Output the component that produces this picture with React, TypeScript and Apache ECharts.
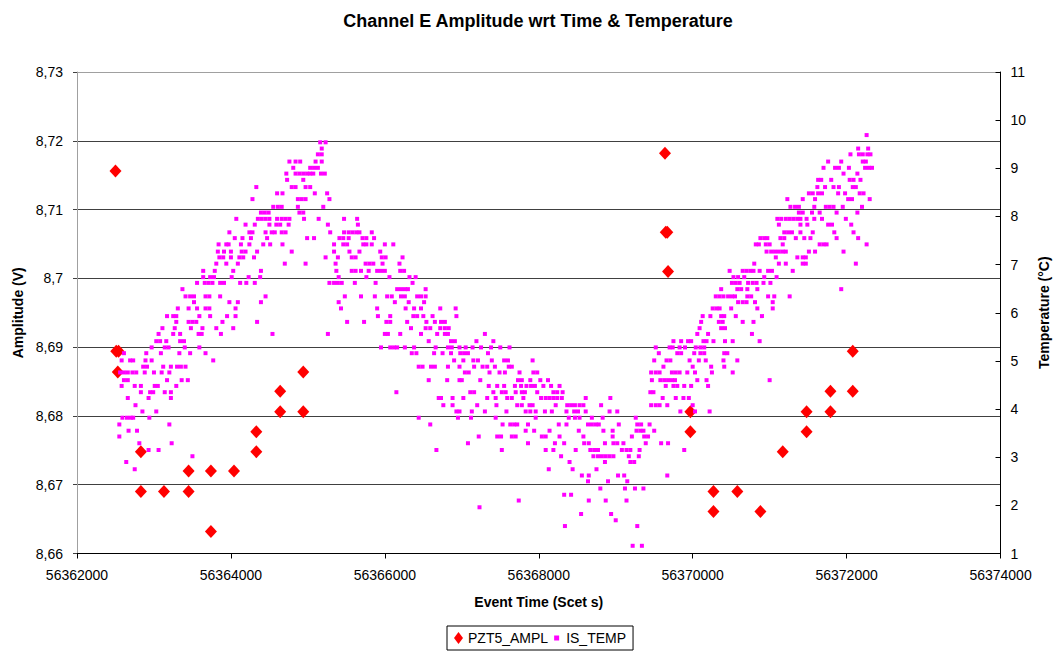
import React, { useEffect, useRef } from "react";
import * as echarts from "echarts";

const TITLE = "Channel E Amplitude wrt Time & Temperature";
const X_NAME = "Event Time (Scet s)";
const AMP_NAME = "Amplitude (V)";
const TEMP_NAME = "Temperature (°C)";

const X_MIN = 56362000;
const X_MAX = 56374000;
const X_STEP = 2000;
const AMP_MIN = 8.66;
const AMP_MAX = 8.73;
const AMP_STEP = 0.01;
const TEMP_MIN = 1;
const TEMP_MAX = 11;
const TEMP_STEP = 1;

// PZT5_AMPL readings: [event time (Scet s), amplitude (V)]
const pzt5Ampl: [number, number][] = [
  [56362500, 8.7156], [56362510, 8.6894], [56362540, 8.6894], [56362530, 8.6864],
  [56362830, 8.6748], [56362830, 8.669], [56363130, 8.669], [56363450, 8.672],
  [56363450, 8.669], [56363740, 8.672], [56363740, 8.6632], [56364040, 8.672],
  [56364330, 8.6777], [56364330, 8.6748], [56364640, 8.6836], [56364640, 8.6806],
  [56364940, 8.6864], [56364940, 8.6806],
  [56369640, 8.7182], [56369650, 8.7067], [56369670, 8.7067], [56369680, 8.701],
  [56369970, 8.6806], [56369970, 8.6777], [56370270, 8.669], [56370270, 8.6661],
  [56370580, 8.669], [56370880, 8.6661], [56371170, 8.6748], [56371480, 8.6806],
  [56371480, 8.6777], [56371790, 8.6836], [56371790, 8.6806], [56372080, 8.6894],
  [56372080, 8.6836],
];

// IS_TEMP readings grouped by logged temperature step: [°C, event times (Scet s)]
const isTempRows: [number, number[]][] = [
  [9.69, [56372260]],
  [9.54, [56365160, 56365230]],
  [9.41, [56365180, 56372150, 56372280]],
  [9.29, [56365130, 56365180, 56372050, 56372160, 56372210, 56372270, 56372310]],
  [9.14, [56364760, 56364840, 56364900, 56365100, 56365180, 56371760, 56371930, 56372210, 56372250]],
  [9.01, [56364810, 56365030, 56365080, 56365130, 56371700, 56371850, 56371900, 56372030, 56372240, 56372290, 56372330]],
  [8.89, [56364720, 56364840, 56364890, 56364940, 56364990, 56365030, 56365070, 56365170, 56365220, 56371960, 56372140]],
  [8.76, [56364730, 56364940, 56371630, 56371670, 56371800, 56372040, 56372090, 56372180]],
  [8.61, [56364330, 56364790, 56364840, 56364970, 56365030, 56371620, 56371720, 56371830, 56371900, 56372080, 56372120]],
  [8.48, [56364600, 56364670, 56365090, 56365250, 56371510, 56371560, 56371630, 56371680, 56371890, 56371980, 56372170, 56372220]],
  [8.36, [56364280, 56364870, 56364920, 56364970, 56365280, 56371230, 56371430, 56371590, 56372020, 56372070, 56372300]],
  [8.2, [56364550, 56364610, 56364660, 56364870, 56365200, 56371270, 56371330, 56371380, 56371580, 56371730, 56371780, 56371830, 56371950, 56372200]],
  [8.08, [56364390, 56364440, 56364490, 56364890, 56364940, 56371380, 56371430, 56371550, 56371650, 56371870, 56372140]],
  [7.95, [56364070, 56364350, 56364400, 56364450, 56364500, 56364600, 56364660, 56364710, 56364760, 56364950, 56365140, 56365470, 56365640, 56371100, 56371150, 56371210, 56371260, 56371310, 56371360, 56371400, 56371480, 56371580, 56371680, 56371990]],
  [7.83, [56364190, 56364310, 56364500, 56364590, 56364640, 56364750, 56365260, 56365650, 56371120, 56371400, 56371490, 56371760, 56371810, 56372060]],
  [7.67, [56363980, 56364240, 56364280, 56364450, 56364530, 56364570, 56364660, 56364710, 56365290, 56365470, 56365530, 56365580, 56365630, 56365670, 56365830, 56371190, 56371240, 56371290, 56371400, 56371560, 56371840, 56372090]],
  [7.55, [56364050, 56364150, 56364260, 56364470, 56364990, 56365080, 56365410, 56365460, 56365530, 56365710, 56365760, 56365860, 56370880, 56370930, 56370970, 56371140, 56371190, 56371340, 56371450, 56371530, 56371870, 56372150]],
  [7.42, [56363840, 56363940, 56363970, 56364130, 56364240, 56364420, 56364510, 56364670, 56365340, 56365460, 56365510, 56365720, 56365760, 56365830, 56366000, 56366110, 56370820, 56370860, 56370950, 56371000, 56371170, 56371650, 56371700, 56371740, 56372260]],
  [7.27, [56363830, 56363910, 56364000, 56364140, 56364190, 56364340, 56364790, 56365340, 56365540, 56365670, 56365940, 56370960, 56371020, 56371070, 56371120, 56371170, 56371210, 56371510, 56371590, 56371960]],
  [7.15, [56363850, 56363900, 56364000, 56364110, 56364160, 56364300, 56365230, 56365390, 56365570, 56365620, 56365960, 56366010, 56366230, 56371080, 56371360, 56371430, 56371470]],
  [7.02, [56363810, 56363940, 56364090, 56364700, 56364970, 56365360, 56365750, 56365800, 56365850, 56365970, 56366190, 56370800, 56371120, 56371210, 56371430, 56371470, 56372120]],
  [6.87, [56363640, 56363790, 56364030, 56364390, 56365370, 56365570, 56365620, 56365690, 56365790, 56365900, 56365950, 56366000, 56366200, 56366250, 56370480, 56370650, 56370700, 56370750, 56370790, 56370870, 56370980, 56371030, 56371300]],
  [6.74, [56363640, 56363730, 56363780, 56364010, 56364230, 56364380, 56365400, 56365760, 56366060, 56366320, 56366400, 56370530, 56370590, 56370670, 56370930, 56371090]],
  [6.62, [56363560, 56363660, 56363710, 56363760, 56363860, 56363910, 56364120, 56364200, 56364310, 56365280, 56365340, 56365390, 56365440, 56365610, 56365880, 56366360, 56370510, 56370560, 56370610, 56370720, 56370780, 56370830, 56370920, 56371010]],
  [6.49, [56363370, 56366160, 56366210, 56366260, 56366300, 56366530, 56370370, 56370580, 56370630, 56370710, 56370840, 56371930]],
  [6.34, [56363410, 56363470, 56363520, 56363670, 56363720, 56363860, 56364450, 56365480, 56365690, 56365870, 56366030, 56366090, 56366210, 56366260, 56366420, 56366470, 56366530, 56370300, 56370350, 56370400, 56370460, 56370510, 56370550, 56370710, 56370760, 56370980, 56371060, 56371260]],
  [6.22, [56363520, 56363980, 56364090, 56364390, 56365400, 56366130, 56366310, 56366510, 56370590, 56370650, 56370700, 56370810, 56371040]],
  [6.09, [56363310, 56363450, 56363560, 56363670, 56363720, 56364060, 56365430, 56365900, 56366270, 56366380, 56366470, 56366720, 56366920, 56370260, 56370310, 56370350, 56370500, 56370840, 56371040]],
  [5.93, [56363170, 56363250, 56363290, 56363590, 56363730, 56363950, 56364060, 56365910, 56366070, 56366370, 56366420, 56366500, 56366620, 56366930, 56370130, 56370230, 56370370, 56370410, 56370560, 56370900]],
  [5.81, [56363290, 56363450, 56363500, 56363550, 56363890, 56364340, 56365510, 56365730, 56366020, 56366070, 56366290, 56366540, 56366650, 56366730, 56366780, 56370110, 56370340, 56370390, 56370650, 56370790]],
  [5.68, [56363110, 56363270, 56363480, 56363630, 56363810, 56364030, 56366340, 56366530, 56366590, 56366720, 56366780, 56366830, 56370090, 56370370, 56370420]],
  [5.56, [56363060, 56363250, 56363340, 56363580, 56363620, 56363870, 56364540, 56365260, 56366000, 56366040, 56366200, 56366470, 56366680, 56366780, 56366820, 56367300, 56370060, 56370200, 56370770]],
  [5.41, [56363030, 56363080, 56363160, 56363340, 56363390, 56366570, 56366860, 56366910, 56367190, 56367410, 56369750, 56369850, 56369940, 56369980, 56370140, 56370180, 56370270, 56370420, 56370520, 56370870]],
  [5.28, [56362970, 56363140, 56363190, 56363400, 56363590, 56365950, 56366070, 56366120, 56366160, 56366260, 56366380, 56366660, 56366820, 56366870, 56366970, 56367050, 56367140, 56367250, 56367380, 56367500, 56367620, 56369520, 56369700, 56369740, 56369830, 56369900, 56370040, 56370100, 56370150]],
  [5.16, [56362610, 56362900, 56363090, 56363330, 56363470, 56363670, 56366350, 56366410, 56366640, 56366750, 56366860, 56366980, 56367030, 56367080, 56367340, 56369560, 56369800, 56369850, 56370020, 56370100, 56370150, 56370410, 56370450]],
  [5.01, [56362580, 56362690, 56362730, 56362890, 56362970, 56363770, 56366900, 56367020, 56367150, 56367210, 56367390, 56367550, 56367600, 56367920, 56369500, 56369660, 56369710, 56369960, 56370080, 56370170, 56370400, 56370580]],
  [4.88, [56362860, 56362910, 56363120, 56363220, 56363300, 56363350, 56363410, 56366440, 56366490, 56366600, 56366650, 56366820, 56366970, 56367160, 56367270, 56367330, 56367430, 56367610, 56367650, 56369620, 56370000, 56370240, 56370410]],
  [4.76, [56362560, 56362610, 56362660, 56362720, 56362770, 56362880, 56363000, 56363100, 56363200, 56367040, 56367090, 56367360, 56367490, 56367560, 56367750, 56367930, 56367980, 56369460, 56369520, 56369570, 56369730, 56369780, 56369830, 56369930, 56370030, 56370250, 56370520]],
  [4.6, [56362610, 56362660, 56363170, 56363360, 56363440, 56366570, 56366810, 56366970, 56367000, 56367240, 56367730, 56367780, 56367890, 56368020, 56368120, 56369470, 56369580, 56369630, 56369680, 56369730, 56369770, 56370060, 56370180, 56371000]],
  [4.48, [56362580, 56362750, 56362830, 56363010, 56363050, 56363290, 56367350, 56367460, 56367550, 56367690, 56367770, 56367840, 56367900, 56367950, 56368060, 56368160, 56368270, 56369650, 56369750, 56369800, 56369890, 56369980, 56370200]],
  [4.35, [56362830, 56362950, 56362990, 56363140, 56363220, 56366150, 56367110, 56367160, 56367410, 56367520, 56367570, 56367700, 56367780, 56367820, 56367980, 56368190, 56368240, 56368310, 56369450, 56369490]],
  [4.23, [56362660, 56362930, 56363220, 56366700, 56366730, 56366880, 56367020, 56367330, 56367440, 56367590, 56367650, 56367800, 56368030, 56368090, 56368140, 56368190, 56368240, 56368300, 56368610, 56368930, 56369610, 56369780, 56369880, 56369950]],
  [4.08, [56362760, 56366760, 56366880, 56367200, 56367450, 56367720, 56367780, 56367880, 56367920, 56368220, 56368370, 56368420, 56368470, 56368530, 56368580, 56368810, 56369460, 56369520, 56369570, 56369670, 56370000]],
  [3.95, [56362850, 56363030, 56366930, 56366970, 56367130, 56367300, 56367580, 56367830, 56367890, 56367960, 56368080, 56368170, 56368360, 56368460, 56368510, 56368610, 56368920, 56369020, 56369840, 56370030, 56370220]],
  [3.82, [56362590, 56362650, 56362700, 56362730, 56362940, 56366440, 56366950, 56367120, 56367440, 56367960, 56368390, 56368470, 56368530, 56368690, 56368830, 56369260]],
  [3.68, [56362550, 56363200, 56366590, 56367530, 56367630, 56367680, 56367720, 56367860, 56368260, 56368360, 56368640, 56368690, 56368740, 56368780, 56369040, 56369280, 56369330, 56369440]],
  [3.55, [56362670, 56362780, 56367830, 56367940, 56368140, 56368520, 56368840, 56368960, 56369270, 56369320, 56369360, 56369500]],
  [3.43, [56362550, 56367220, 56367460, 56367510, 56367650, 56367700, 56368040, 56368090, 56368270, 56368580, 56368960, 56369210, 56369370, 56369420]],
  [3.29, [56362810, 56363230, 56367080, 56367860, 56368210, 56368330, 56368590, 56368650, 56368860, 56368970, 56369020, 56369100, 56369390, 56369590, 56369680]],
  [3.15, [56362930, 56363060, 56366670, 56367520, 56368090, 56368190, 56368480, 56368670, 56368720, 56368770, 56369080, 56369140, 56369190, 56369310, 56369890]],
  [3.02, [56363500, 56368290, 56368710, 56368770, 56368820, 56368870, 56368920, 56368970, 56369170, 56369300]],
  [2.9, [56362640, 56368400, 56368860, 56369190, 56369240]],
  [2.75, [56362750, 56368130, 56368440, 56368750]],
  [2.62, [56368560, 56368650, 56369030, 56369110, 56369670]],
  [2.5, [56368640, 56368900, 56369150]],
  [2.35, [56368800, 56369120, 56369250, 56369360]],
  [2.22, [56368330, 56368420]],
  [2.1, [56367740, 56368650, 56368870, 56369140]],
  [1.96, [56367230]],
  [1.82, [56368550, 56368940]],
  [1.69, [56369000]],
  [1.57, [56368340, 56369280]],
  [1.16, [56369220, 56369340]],
];

const FONT = "'Liberation Sans', Arial, Helvetica, sans-serif";
const RED = "#ff0000";
const MAGENTA = "#ff00ff";

// Excel-style decimal comma, trailing zeros dropped (8,7 / 8,73)
const formatAmp = (v: number) => String(Math.round(v * 100) / 100).replace(".", ",");

export default function App() {
  const ref = useRef<HTMLDivElement>(null);

  useEffect(() => {
    if (!ref.current) return;
    const chart = echarts.init(ref.current, undefined, { renderer: "svg" });

    const tempData: [number, number][] = [];
    isTempRows.forEach(([temp, times]) => {
      times.forEach((t) => tempData.push([t, temp]));
    });

    const axisText = { color: "#000", fontFamily: FONT, fontSize: 14 };
    const nameText = { color: "#000", fontFamily: FONT, fontSize: 14, fontWeight: "bold" as const };

    chart.setOption({
      animation: false,
      backgroundColor: "#ffffff",
      title: {
        text: TITLE,
        left: 533,
        top: 7,
        textAlign: "center",
        textStyle: { color: "#000", fontFamily: FONT, fontSize: 18, fontWeight: "bold" },
      },
      legend: {
        left: 447,
        top: 626,
        orient: "horizontal",
        padding: [5, 7, 5, 7],
        itemGap: 4,
        itemWidth: 9,
        itemHeight: 12,
        borderColor: "#000",
        borderWidth: 1,
        backgroundColor: "#fff",
        textStyle: { color: "#000", fontFamily: FONT, fontSize: 14 },
        data: [
          { name: "PZT5_AMPL", icon: "path://M4.5,0L9,6L4.5,12L0,6Z" },
          { name: "IS_TEMP", icon: "path://M0,0M9,12M2,3.5h5v5h-5Z" },
        ],
      },
      grid: { left: 77, right: 53, top: 72, bottom: 105.5, containLabel: false },
      xAxis: {
        type: "value",
        min: X_MIN,
        max: X_MAX,
        interval: X_STEP,
        name: X_NAME,
        nameLocation: "middle",
        nameGap: 41,
        nameTextStyle: nameText,
        axisLine: { show: true, onZero: false, lineStyle: { color: "#000", width: 1 } },
        axisTick: { show: true, inside: false, length: 5, lineStyle: { color: "#000" } },
        axisLabel: { ...axisText, margin: 14, formatter: (v: number) => String(v) },
        splitLine: { show: false },
      },
      yAxis: [
        {
          type: "value",
          position: "left",
          min: AMP_MIN,
          max: AMP_MAX,
          interval: AMP_STEP,
          name: AMP_NAME,
          nameLocation: "middle",
          nameRotate: 90,
          nameGap: 52,
          nameTextStyle: nameText,
          axisLine: { show: true, onZero: false, lineStyle: { color: "#a0a0a0", width: 1 } },
          axisTick: { show: true, inside: false, length: 4, lineStyle: { color: "#404040" } },
          axisLabel: { ...axisText, margin: 14, formatter: formatAmp },
          splitLine: {
            show: true,
            lineStyle: {
              color: ["#000", "#404040", "#404040", "#404040", "#404040", "#404040", "#404040", "#a0a0a0"],
              width: 1,
            },
          },
        },
        {
          type: "value",
          position: "right",
          min: TEMP_MIN,
          max: TEMP_MAX,
          interval: TEMP_STEP,
          name: TEMP_NAME,
          nameLocation: "middle",
          nameRotate: 90,
          nameGap: 35,
          nameTextStyle: nameText,
          axisLine: { show: true, onZero: false, lineStyle: { color: "#000", width: 1 } },
          axisTick: { show: true, inside: true, length: 5, lineStyle: { color: "#000" } },
          axisLabel: { ...axisText, margin: 10 },
          splitLine: { show: false },
        },
      ],
      series: [
        {
          name: "PZT5_AMPL",
          type: "scatter",
          yAxisIndex: 0,
          symbol: "diamond",
          symbolSize: [12, 13],
          itemStyle: { color: RED, opacity: 1 },
          data: pzt5Ampl,
          z: 2,
        },
        {
          name: "IS_TEMP",
          type: "scatter",
          yAxisIndex: 1,
          symbol: "rect",
          symbolSize: 4,
          itemStyle: { color: MAGENTA, opacity: 1 },
          data: tempData,
          z: 3,
        },
      ],
    });

    return () => chart.dispose();
  }, []);

  return (
    <div
      ref={ref}
      style={{ position: "fixed", left: 0, top: 0, width: 1059, height: 659, background: "#fff" }}
    />
  );
}
